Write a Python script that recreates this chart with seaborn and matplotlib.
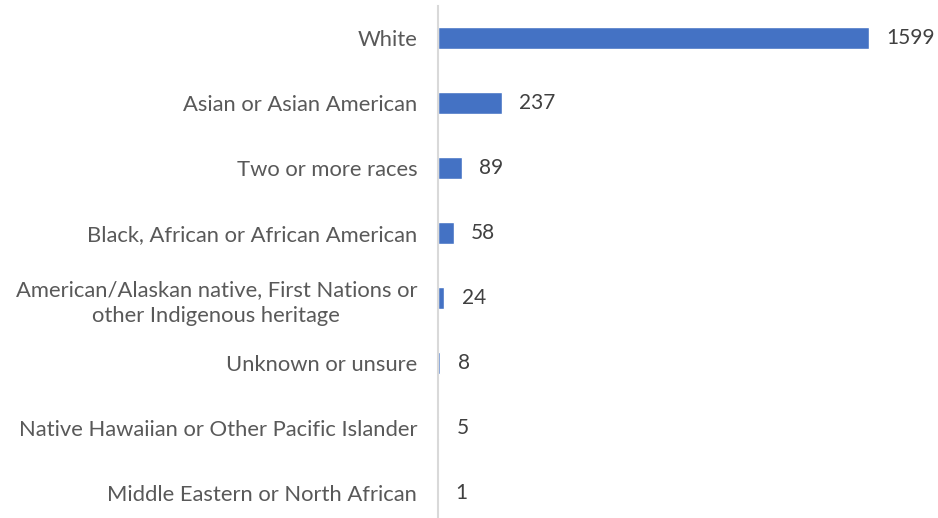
import pandas as pd
import seaborn as sns
import matplotlib.pyplot as plt

categorias = [
    "White",
    "Asian or Asian American",
    "Two or more races",
    "Black, African or African American",
    "American/Alaskan native, First Nations or\nother Indigenous heritage",
    "Unknown or unsure",
    "Native Hawaiian or Other Pacific Islander",
    "Middle Eastern or North African",
]
valores = [1599, 237, 89, 58, 24, 8, 5, 1]

df = pd.DataFrame({"categoria": categorias, "valor": valores})

sns.set_style("white")
plt.rcParams["font.family"] = ["Lato", "DejaVu Sans"]

fig = plt.figure(figsize=(9.38, 5.18), dpi=100)
ax = fig.add_axes([438 / 938, 0.9884 - 519 / 518, 500 / 938, 519 / 518])

sns.barplot(data=df, y="categoria", x="valor", color="#4472C4", width=0.34,
            saturation=1, ax=ax)

ax.set_xlim(0, 500 / 0.2695)
ax.set_ylim(7.5, -0.5)
ax.bar_label(ax.containers[0], padding=12.5, fontsize=15, color="#404040")

ax.set_xlabel("")
ax.set_ylabel("")
ax.set_xticks([])
ax.tick_params(axis="y", length=0, pad=15, labelsize=15.8, labelcolor="#595959")
for lbl in ax.get_yticklabels():
    lbl.set_multialignment("center")
    lbl.set_linespacing(1.35)

for s in ["top", "right", "bottom"]:
    ax.spines[s].set_visible(False)
ax.spines["left"].set_color("#D9D9D9")
ax.spines["left"].set_linewidth(1.5)

fig.savefig("out.png", dpi=100)
